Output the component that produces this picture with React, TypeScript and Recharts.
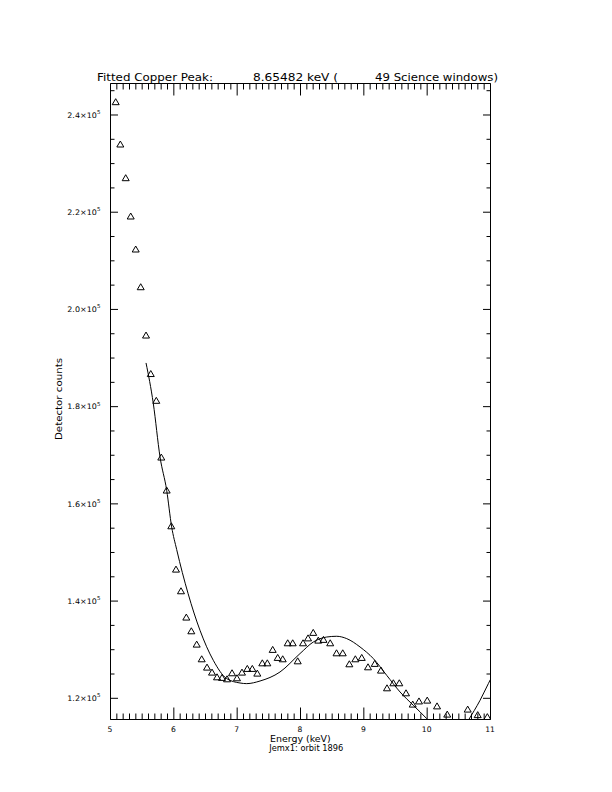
import React from 'react';
import { ComposedChart, Line, Scatter, XAxis, YAxis, ReferenceLine } from 'recharts';

// ---- data ----
const pointEnergy = [
  5.082, 5.155, 5.24, 5.319, 5.398, 5.477, 5.561, 5.636, 5.723, 5.802,
  5.887, 5.96, 6.034, 6.113, 6.197, 6.276, 6.361, 6.44, 6.524, 6.603,
  6.682, 6.761, 6.84, 6.919, 6.997, 7.076, 7.16, 7.239, 7.318, 7.397,
  7.476, 7.561, 7.64, 7.719, 7.798, 7.877, 7.956, 8.04, 8.119, 8.201,
  8.281, 8.363, 8.469, 8.569, 8.667, 8.771, 8.866, 8.967, 9.066, 9.172,
  9.271, 9.366, 9.466, 9.56, 9.666, 9.772, 9.871, 10.001, 10.156, 10.317,
  10.64, 10.798, 10.95,
];
const pointCounts = [
  242700, 233990, 227060, 219180, 212390, 204630, 194690, 186770, 181260, 169590,
  162800, 155450, 146540, 142080, 136670, 133850, 131110, 128090, 126380, 125350,
  124380, 124260, 123970, 125210, 124180, 125350, 126110, 126110, 125140, 127260,
  127260, 130020, 128370, 128090, 131380, 131380, 127670, 131380, 132390, 133520,
  131930, 132080, 131380, 129320, 129320, 127060, 128090, 128370, 126440, 127140,
  125760, 122120, 123150, 123150, 121090, 118770, 119420, 119590, 118400, 116710,
  117740, 116600, 116190,
];

const fitEnergy = [
  5.561, 5.676, 5.782, 5.887, 5.966, 6.045, 6.224, 6.413, 6.623, 6.835,
  7.045, 7.151, 7.361, 7.676, 7.992, 8.202, 8.414, 8.572, 8.73, 8.94,
  9.15, 9.361, 9.572, 9.781, 9.993, 10.2, 10.4, 10.55, 10.65, 10.835,
  10.966, 11.0,
];
const fitCounts = [
  188990, 180640, 169650, 162800, 155250, 150600, 141600, 133990, 127820, 124050,
  123150, 123020, 123560, 125410, 129200, 131580, 132610, 132760, 132280, 130560,
  128170, 124730, 121300, 118560, 115820, 112800, 111900, 113300, 115470, 119590,
  123020, 123900,
];

const xMajorTicks = [5, 6, 7, 8, 9, 10, 11];
const yMajorTicks = [120000, 140000, 160000, 180000, 200000, 220000, 240000];
const yMajorLabels = ['1.2', '1.4', '1.6', '1.8', '2.0', '2.2', '2.4'];
const yExponent = '5';

const titleParts = ['Fitted Copper Peak:', '8.65482 keV (', '49 Science windows)'];
const xTitle = 'Energy (keV)';
const subTitle = 'Jemx1: orbit 1896';
const yTitle = 'Detector counts';

// ---- layout ----
const X_MIN = 5;
const X_MAX = 11;
const Y_MIN = 115640;
const Y_MAX = 246480;
const PLOT_LEFT = 110.5;
const PLOT_RIGHT = 490.5;
const PLOT_TOP = 83.5;
const PLOT_BOTTOM = 719.5;
const PLOT_W = PLOT_RIGHT - PLOT_LEFT;
const PLOT_H = PLOT_BOTTOM - PLOT_TOP;
const FONT = 'DejaVu Sans';

const xTicks: number[] = [];
for (let i = 0; i <= 60; i++) xTicks.push(Math.round((X_MIN + i * 0.1) * 10) / 10);
const yTicks: number[] = [];
for (let v = 120000; v <= Y_MAX; v += 5000) yTicks.push(v);

const points = pointEnergy.map((e, i) => ({ e, v: pointCounts[i] }));
const fit = fitEnergy.map((e, i) => ({ e, v: fitCounts[i] }));

const XTick = (props: any) => {
  const { x, y, payload } = props;
  const v = payload.value;
  const major = xMajorTicks.some((m) => Math.abs(m - v) < 1e-6);
  const len = major ? 12 : 6;
  return (
    <g>
      <line x1={x} y1={y} x2={x} y2={y - len} stroke="#000" strokeWidth={1} />
      <line x1={x} y1={y - PLOT_H} x2={x} y2={y - PLOT_H + len} stroke="#000" strokeWidth={1} />
      {major && (
        <text x={x - 0.5} y={y + 12} textAnchor="middle" fontSize={7.6} fontFamily={FONT} fill="#000">
          {String(Math.round(v))}
        </text>
      )}
    </g>
  );
};

const YTick = (props: any) => {
  const { x, y, payload } = props;
  const idx = yMajorTicks.indexOf(payload.value);
  const major = idx >= 0;
  const len = major ? 7.5 : 4;
  return (
    <g>
      <line x1={x} y1={y} x2={x + len} y2={y} stroke="#000" strokeWidth={1} />
      <line x1={x + PLOT_W} y1={y} x2={x + PLOT_W - len} y2={y} stroke="#000" strokeWidth={1} />
      {major && (
        <g>
          <text
            x={x - 43.2}
            y={y + 2.7}
            fontSize={7.6}
            fontFamily={FONT}
            fill="#000"
            textLength={29.5}
            lengthAdjust="spacingAndGlyphs"
          >
            {yMajorLabels[idx] + '×10'}
          </text>
          <text x={x - 13.4} y={y - 1} fontSize={5.5} fontFamily={FONT} fill="#000">
            {yExponent}
          </text>
        </g>
      )}
    </g>
  );
};

const Triangle = (props: any) => {
  const { cx, cy } = props;
  if (cx == null || cy == null) return null;
  return (
    <path
      d={`M${cx - 3.5},${cy + 2.8} L${cx},${cy - 3.2} L${cx + 3.5},${cy + 2.8} Z`}
      fill="none"
      stroke="#000"
      strokeWidth={1}
    />
  );
};

export default function App() {
  return (
    <div style={{ position: 'absolute', left: 0, top: 0, width: 612, height: 792, background: '#fff' }}>
      <ComposedChart
        width={612}
        height={792}
        margin={{ top: PLOT_TOP, right: 612 - PLOT_RIGHT, bottom: 792 - PLOT_BOTTOM - 30, left: PLOT_LEFT - 60 }}
      >
        <XAxis
          type="number"
          dataKey="e"
          domain={[X_MIN, X_MAX]}
          allowDataOverflow
          ticks={xTicks}
          interval={0}
          tickSize={0}
          tickMargin={0}
          tickLine={false}
          tick={XTick}
          height={30}
          axisLine={{ stroke: '#000', strokeWidth: 1 }}
        />
        <YAxis
          type="number"
          dataKey="v"
          domain={[Y_MIN, Y_MAX]}
          allowDataOverflow
          ticks={yTicks}
          interval={0}
          tickSize={0}
          tickMargin={0}
          tickLine={false}
          tick={YTick}
          width={60}
          axisLine={{ stroke: '#000', strokeWidth: 1 }}
        />
        <ReferenceLine y={Y_MAX} stroke="#000" strokeWidth={1} />
        <ReferenceLine x={X_MAX} stroke="#000" strokeWidth={1} />
        <Line
          data={fit}
          dataKey="v"
          type="monotone"
          stroke="#000"
          strokeWidth={1}
          dot={false}
          activeDot={false}
          isAnimationActive={false}
        />
        <Scatter data={points} dataKey="v" shape={Triangle} isAnimationActive={false} />
      </ComposedChart>
      <svg
        width={612}
        height={792}
        style={{ position: 'absolute', left: 0, top: 0, pointerEvents: 'none' }}
      >
        <text x={97} y={81} fontSize={11} fontFamily={FONT} fill="#000" textLength={116} lengthAdjust="spacingAndGlyphs">
          {titleParts[0]}
        </text>
        <text x={253} y={81} fontSize={11} fontFamily={FONT} fill="#000" textLength={85} lengthAdjust="spacingAndGlyphs">
          {titleParts[1]}
        </text>
        <text x={375} y={81} fontSize={11} fontFamily={FONT} fill="#000" textLength={123} lengthAdjust="spacingAndGlyphs">
          {titleParts[2]}
        </text>
        <text x={270} y={741.5} fontSize={8} fontFamily={FONT} fill="#000" textLength={60.7} lengthAdjust="spacingAndGlyphs">
          {xTitle}
        </text>
        <text x={269.3} y={751} fontSize={8} fontFamily={FONT} fill="#000" textLength={74} lengthAdjust="spacingAndGlyphs">
          {subTitle}
        </text>
        <text
          transform="translate(61.7,440) rotate(-90)"
          x={0}
          y={0}
          fontSize={8.5}
          fontFamily={FONT}
          fill="#000"
          textLength={82}
          lengthAdjust="spacingAndGlyphs"
        >
          {yTitle}
        </text>
      </svg>
    </div>
  );
}
